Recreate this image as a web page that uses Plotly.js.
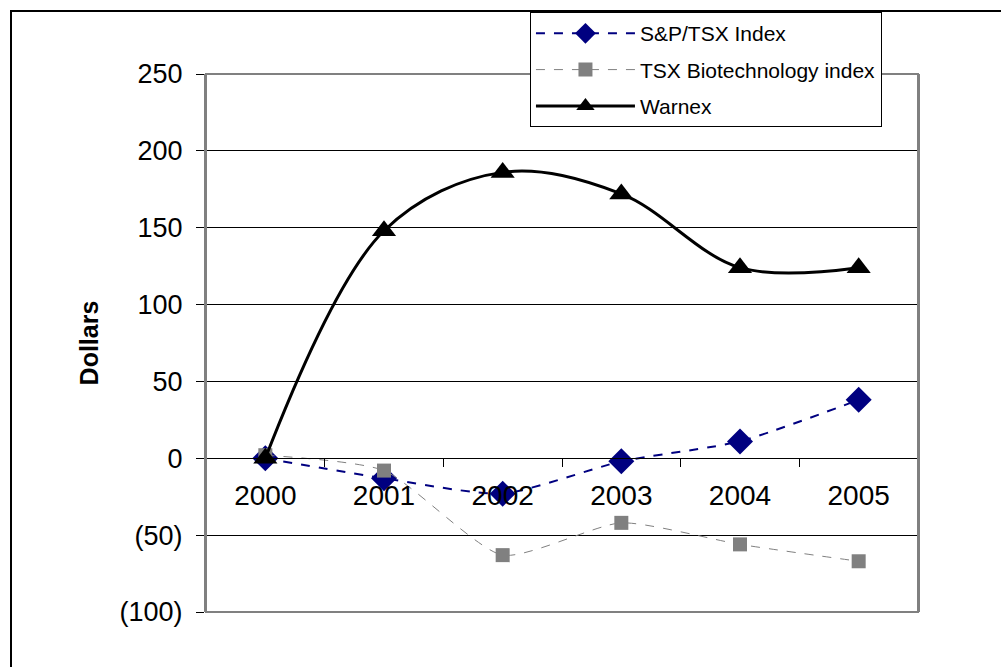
<!DOCTYPE html>
<html>
<head>
<meta charset="utf-8">
<script src="https://cdn.plot.ly/plotly-3.0.1.min.js"></script>
<style>
  html, body { margin: 0; padding: 0; background: #fff; }
  #chart { position: absolute; left: 0; top: 0; width: 1001px; height: 667px; }
  #frame { position: absolute; left: 10px; top: 10px; width: 1100px; height: 800px;
           border-top: 2px solid #000; border-left: 2px solid #000; pointer-events: none; }
</style>
</head>
<body>
<div id="chart"></div>
<div id="frame"></div>
<script>
const years = ["2000", "2001", "2002", "2003", "2004", "2005"];
const spTsx = [0, -13, -23, -2, 11, 38];
const tsxBiotech = [2, -8, -63, -42, -56, -67];
const warnex = [0, 148, 186, 172, 124, 124];
const yTickVals = [-100, -50, 0, 50, 100, 150, 200, 250];
const yTickText = ["(100)", "(50)", "0", "50", "100", "150", "200", "250"];

const FONT = "Arial, 'Liberation Sans', sans-serif";

const traces = [
  {
    x: years, y: spTsx, name: "S&P/TSX Index", type: "scatter", mode: "lines+markers",
    legendgroup: "g1",
    line: { color: "#000080", width: 2, dash: "dash", shape: "spline", smoothing: 0.6 },
    marker: { symbol: "diamond", size: 20, color: "#000080" }
  },
  {
    x: years, y: tsxBiotech, name: "TSX Biotechnology index", type: "scatter", mode: "lines+markers",
    legendgroup: "g2",
    line: { color: "#808080", width: 1, dash: "dash", shape: "spline", smoothing: 0.6 },
    marker: { symbol: "square", size: 14, color: "#808080" }
  },
  {
    x: years, y: warnex, name: "Warnex", type: "scatter", mode: "lines+markers",
    legendgroup: "g3",
    line: { color: "#000000", width: 3, shape: "spline", smoothing: 1 },
    marker: { symbol: "triangle-up", size: 21, color: "#000000" }
  }
];

const layout = {
  width: 1001, height: 667,
  margin: { l: 206, r: 83, t: 74, b: 55 },
  paper_bgcolor: "#ffffff", plot_bgcolor: "#ffffff",
  font: { family: FONT, size: 22, color: "#000" },
  showlegend: true,
  legend: {
    x: 0.455, y: 1.115, xanchor: "left", yanchor: "top",
    bgcolor: "#ffffff", bordercolor: "#000", borderwidth: 1,
    font: { family: FONT, size: 21, color: "#000" },
    itemwidth: 99, traceorder: "grouped", tracegroupgap: 6
  },
  xaxis: {
    type: "category", range: [-0.5, 5.5],
    anchor: "free", position: 100 / 350,
    showline: true, linecolor: "#000", linewidth: 1,
    ticks: "outside", tickson: "boundaries", ticklen: 8, tickcolor: "#000", tickwidth: 1,
    ticklabelstandoff: 12,
    showgrid: false, zeroline: false,
    tickfont: { family: FONT, size: 28, color: "#000" }
  },
  yaxis: {
    range: [-100, 250], tickvals: yTickVals, ticktext: yTickText,
    showline: true, linecolor: "#808080", linewidth: 2, mirror: true,
    ticks: "outside", ticklen: 8, tickcolor: "#000", tickwidth: 1,
    ticklabelstandoff: 8,
    showgrid: true, gridcolor: "#000", gridwidth: 1, zeroline: false,
    tickfont: { family: FONT, size: 27, color: "#000" },
    title: { text: "<b>Dollars</b>", font: { family: FONT, size: 25, color: "#000" }, standoff: 14 }
  },
  shapes: [
    { type: "rect", xref: "paper", yref: "paper", x0: 0, x1: 1, y0: 0, y1: 1,
      line: { color: "#808080", width: 2 }, layer: "above" }
  ]
};

Plotly.newPlot("chart", traces, layout, { displayModeBar: false, staticPlot: true });
</script>
</body>
</html>
